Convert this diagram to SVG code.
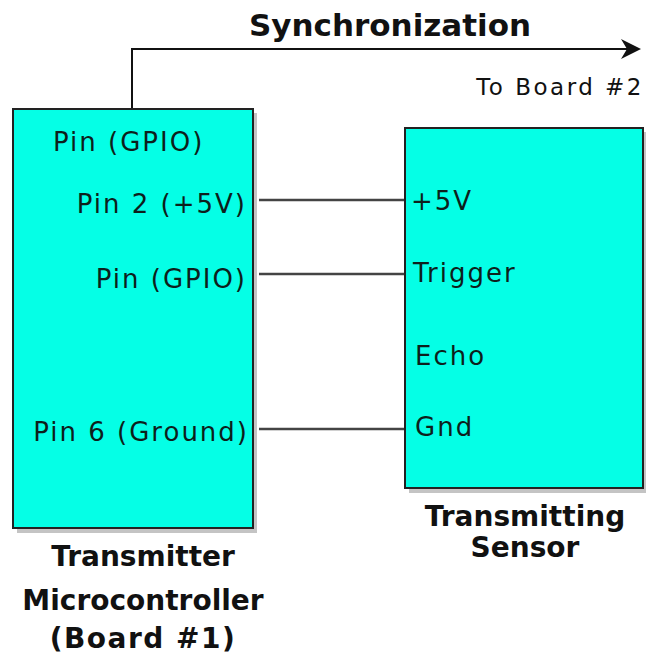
<svg xmlns="http://www.w3.org/2000/svg" width="646" height="661" viewBox="0 0 646 661">
<defs>
<style>
.box{fill:#05FFE6;stroke:#222;stroke-width:2}
.shadow{fill:#c4c4c4}
.pin{font-family:"DejaVu Sans",Verdana,sans-serif;font-size:26px;fill:#0d1f1c;letter-spacing:2px}
.lbl{font-family:"DejaVu Sans",Verdana,sans-serif;font-size:28px;font-weight:bold;fill:#111;text-anchor:middle}
.wire{stroke:#444;stroke-width:2.5;fill:none}
</style>
</defs>
<rect width="646" height="661" fill="#fff"/>
<g id="connectors">
<path d="M132 109 V49 H628" fill="none" stroke="#111" stroke-width="2"/>
<polygon points="621,39 641,49 621,59 627,49" fill="#111"/>
<line class="wire" x1="259" y1="200" x2="405" y2="200"/>
<line class="wire" x1="259" y1="274" x2="405" y2="274"/>
<line class="wire" x1="259" y1="429" x2="405" y2="429"/>
</g>
<g id="sync-label">
<text x="390" y="36" font-family="DejaVu Sans,Verdana,sans-serif" font-size="31" font-weight="bold" fill="#111" text-anchor="middle">Synchronization</text>
<text x="644" y="95" font-family="DejaVu Sans,Verdana,sans-serif" font-size="23" fill="#111" text-anchor="end" letter-spacing="2.5">To Board #2</text>
</g>
<g id="microcontroller">
<rect class="shadow" x="17" y="113" width="240" height="420"/>
<rect class="box" x="13" y="109" width="240" height="419"/>
<text class="pin" x="53" y="151">Pin (GPIO)</text>
<text class="pin" x="247" y="213" text-anchor="end">Pin 2 (+5V)</text>
<text class="pin" x="247" y="288" text-anchor="end">Pin (GPIO)</text>
<text class="pin" x="249" y="441" text-anchor="end">Pin 6 (Ground)</text>
<text class="lbl" x="143" y="566">Transmitter</text>
<text class="lbl" x="143" y="610">Microcontroller</text>
<text class="lbl" x="143" y="648" letter-spacing="1.5">(Board #1)</text>
</g>
<g id="sensor">
<rect class="shadow" x="409" y="132" width="237" height="361"/>
<rect class="box" x="405" y="128" width="238" height="360"/>
<text class="pin" x="411" y="210">+5V</text>
<text class="pin" x="413" y="282">Trigger</text>
<text class="pin" x="415" y="365">Echo</text>
<text class="pin" x="415" y="436">Gnd</text>
<text class="lbl" x="525" y="526">Transmitting</text>
<text class="lbl" x="525" y="557">Sensor</text>
</g>
</svg>
